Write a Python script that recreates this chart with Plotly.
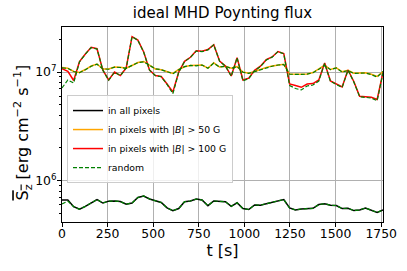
import plotly.graph_objects as go

t_s = [0, 32, 64, 96, 128, 160, 192, 224, 256, 288, 320, 352, 384, 416, 448, 480,
       512, 544, 576, 608, 640, 672, 704, 736, 768, 800, 832, 864, 896, 928, 960, 992,
       1024, 1056, 1088, 1120, 1152, 1184, 1216, 1248, 1280, 1312, 1344, 1376, 1408, 1440,
       1472, 1504, 1536, 1568, 1600, 1632, 1664, 1696, 1728, 1760]

flux_all = [6.61e5, 6.61e5, 5.74e5, 5.43e5, 5.77e5, 6.18e5, 6.68e5, 6.20e5, 6.45e5, 6.47e5,
            6.39e5, 6.05e5, 6.20e5, 6.97e5, 7.20e5, 6.75e5, 6.47e5, 6.27e5, 5.59e5, 5.27e5,
            5.52e5, 6.38e5, 6.47e5, 6.75e5, 6.61e5, 5.86e5, 6.47e5, 6.39e5, 6.38e5, 5.78e5,
            6.23e5, 5.51e5, 5.40e5, 5.95e5, 5.92e5, 6.11e5, 6.30e5, 6.50e5, 6.68e5, 5.58e5,
            5.35e5, 5.46e5, 5.51e5, 5.54e5, 6.00e5, 6.11e5, 5.92e5, 5.88e5, 5.51e5, 5.55e5,
            5.28e5, 5.35e5, 5.58e5, 5.31e5, 5.07e5, 5.35e5]

flux_50G = [1.10e7, 1.084e7, 1.011e7, 9.89e6, 1.054e7, 1.136e7, 1.185e7, 1.066e7, 1.066e7, 1.112e7,
            1.105e7, 1.082e7, 1.148e7, 1.223e7, 1.25e7, 1.16e7, 1.066e7, 1.048e7, 1.0e7, 9.69e6,
            1.054e7, 1.117e7, 1.148e7, 1.148e7, 1.16e7, 1.084e7, 1.216e7, 1.112e7, 1.129e7, 1.082e7,
            1.119e7, 1.0e7, 9.75e6, 1.011e7, 1.061e7, 1.103e7, 1.136e7, 1.16e7, 1.178e7, 9.58e6,
            9.52e6, 9.52e6, 9.58e6, 9.89e6, 1.066e7, 1.155e7, 1.054e7, 1.093e7, 1.004e7, 1.037e7,
            9.75e6, 9.79e6, 9.83e6, 9.52e6, 9.09e6, 1.011e7]

flux_100G = [1.07e7, 1.015e7, 8.35e6, 1.25e7, 1.465e7, 1.69e7, 1.64e7, 1.04e7, 8.44e6, 1.0e7,
             9.28e6, 1.09e7, 2.12e7, 1.97e7, 1.53e7, 1.04e7, 9.28e6, 9.09e6, 7.75e6, 6.54e6,
             1.0e7, 1.255e7, 1.366e7, 1.57e7, 1.55e7, 1.61e7, 1.785e7, 1.26e7, 1.136e7, 9.19e6,
             1.355e7, 8.44e6, 8.77e6, 1.037e7, 1.13e7, 1.30e7, 1.375e7, 1.545e7, 1.48e7, 7.75e6,
             7.51e6, 7.23e6, 7.75e6, 7.83e6, 8.44e6, 1.21e7, 8.26e6, 7.75e6, 7.27e6, 1.043e7,
             8.17e6, 5.97e6, 5.88e6, 5.84e6, 5.58e6, 9.89e6]

random_all = [6.07e5, 6.45e5, 5.74e5, 5.43e5, 5.77e5, 6.18e5, 6.68e5, 6.20e5, 6.45e5, 6.47e5,
              6.39e5, 6.05e5, 6.20e5, 6.97e5, 7.20e5, 6.75e5, 6.47e5, 6.27e5, 5.59e5, 5.27e5,
              5.52e5, 6.38e5, 6.47e5, 6.75e5, 6.61e5, 5.86e5, 6.47e5, 6.39e5, 6.38e5, 5.78e5,
              6.23e5, 5.51e5, 5.40e5, 5.95e5, 5.92e5, 6.11e5, 6.30e5, 6.50e5, 6.68e5, 5.58e5,
              5.35e5, 5.46e5, 5.51e5, 5.54e5, 6.00e5, 6.11e5, 5.92e5, 5.88e5, 5.51e5, 5.55e5,
              5.28e5, 5.35e5, 5.58e5, 5.31e5, 5.07e5, 5.35e5]

random_50G = [1.09e7, 1.08e7, 1.01e7, 9.85e6, 1.05e7, 1.13e7, 1.18e7, 1.07e7, 1.06e7, 1.11e7,
              1.10e7, 1.08e7, 1.15e7, 1.22e7, 1.24e7, 1.16e7, 1.07e7, 1.05e7, 1.0e7, 9.65e6,
              1.05e7, 1.12e7, 1.15e7, 1.14e7, 1.16e7, 1.08e7, 1.21e7, 1.11e7, 1.13e7, 1.08e7,
              1.12e7, 9.95e6, 9.70e6, 1.01e7, 1.06e7, 1.10e7, 1.13e7, 1.16e7, 1.17e7, 9.55e6,
              9.45e6, 9.50e6, 9.55e6, 9.85e6, 1.06e7, 1.15e7, 1.05e7, 1.09e7, 1.0e7, 1.03e7,
              9.70e6, 9.75e6, 9.80e6, 9.45e6, 9.00e6, 1.01e7]

random_100G = [7.12e6, 8.44e6, 7.92e6, 1.24e7, 1.46e7, 1.68e7, 1.63e7, 1.04e7, 8.40e6, 9.95e6,
               9.25e6, 1.09e7, 2.11e7, 1.96e7, 1.52e7, 1.04e7, 9.25e6, 9.05e6, 7.70e6, 6.31e6,
               9.95e6, 1.25e7, 1.36e7, 1.56e7, 1.54e7, 1.60e7, 1.78e7, 1.26e7, 1.13e7, 9.15e6,
               1.35e7, 8.30e6, 8.70e6, 1.03e7, 1.12e7, 1.29e7, 1.37e7, 1.54e7, 1.47e7, 7.51e6,
               7.05e6, 6.83e6, 7.43e6, 7.59e6, 8.26e6, 1.20e7, 8.20e6, 7.70e6, 7.20e6, 1.04e7,
               8.10e6, 5.92e6, 5.83e6, 5.75e6, 5.45e6, 9.80e6]

x_ticks = [0, 250, 500, 750, 1000, 1250, 1500, 1750]
y_ticks = [1e6, 1e7]
y_ticktext = ["10<sup>6</sup>", "10<sup>7</sup>"]
y_minor = [5e5, 6e5, 7e5, 8e5, 9e5, 2e6, 3e6, 4e6, 5e6, 6e6, 7e6, 8e6, 9e6, 2e7]
y_label = ('<span style="text-decoration:overline">S<sub>z</sub></span> '
           '[erg cm<sup>\u22122</sup> s<sup>\u22121</sup>]')

FONT = "DejaVu Sans"
LW = 1.5
fig = go.Figure()

fig.add_trace(go.Scatter(x=t_s, y=flux_all, mode="lines", name="in all pixels",
                         line=dict(color="#000000", width=LW)))
fig.add_trace(go.Scatter(x=t_s, y=flux_50G, mode="lines", name="in pixels with |<i>B</i>| > 50 G",
                         line=dict(color="#FFA500", width=LW)))
fig.add_trace(go.Scatter(x=t_s, y=flux_100G, mode="lines", name="in pixels with |<i>B</i>| > 100 G",
                         line=dict(color="#FF0000", width=LW)))
for i, series in enumerate([random_all, random_50G, random_100G]):
    fig.add_trace(go.Scatter(x=t_s, y=series, mode="lines", name="random",
                             legendgroup="random", showlegend=(i == 0),
                             line=dict(color="#008000", width=1.2, dash="4px,2px")))

fig.update_layout(
    width=407, height=271,
    margin=dict(l=62, r=24, t=27, b=49),
    paper_bgcolor="white", plot_bgcolor="white",
    font=dict(family=FONT, color="black", size=12),
    title=dict(text="ideal MHD Poynting flux", x=0.5467, xanchor="center",
               y=0.953, yanchor="middle", yref="container",
               font=dict(family=FONT, size=15, color="black")),
    showlegend=True,
    legend=dict(x=0.0156, y=0.651, xanchor="left", yanchor="top",
                bgcolor="rgba(255,255,255,0.8)", bordercolor="#cccccc", borderwidth=1,
                font=dict(family=FONT, size=9.3, color="black"),
                itemwidth=30, tracegroupgap=0),
    annotations=[dict(text=y_label, textangle=-90, showarrow=False,
                      xref="paper", yref="paper", x=0, y=0.5,
                      xanchor="center", yanchor="middle", xshift=-39, yshift=-8,
                      font=dict(family=FONT, size=16, color="black"))],
)

fig.update_xaxes(
    range=[0, 1760], tickvals=x_ticks, ticks="outside", ticklen=4, tickcolor="black",
    ticklabelstandoff=-4,
    showline=True, linecolor="black", linewidth=1, mirror=True, automargin=False,
    showgrid=True, gridcolor="#b0b0b0", gridwidth=0.8, zeroline=False,
    tickfont=dict(family=FONT, size=12.4, color="black"),
    title=dict(text="t [s]", font=dict(family=FONT, size=16, color="black"), standoff=2),
)
fig.update_yaxes(
    type="log", range=[5.6175, 7.4147], tickvals=y_ticks, ticktext=y_ticktext,
    ticks="outside", ticklen=4, tickcolor="black", ticklabelstandoff=-2,
    showline=True, linecolor="black", linewidth=1, mirror=True, automargin=False,
    showgrid=True, gridcolor="#b0b0b0", gridwidth=0.8, zeroline=False,
    tickfont=dict(family=FONT, size=12.4, color="black"),
    minor=dict(tickvals=y_minor, ticks="outside", ticklen=2, tickcolor="black", showgrid=False),
)

fig.write_html("out.html", config={"displayModeBar": False},
               post_script="document.body.style.margin='0';")
